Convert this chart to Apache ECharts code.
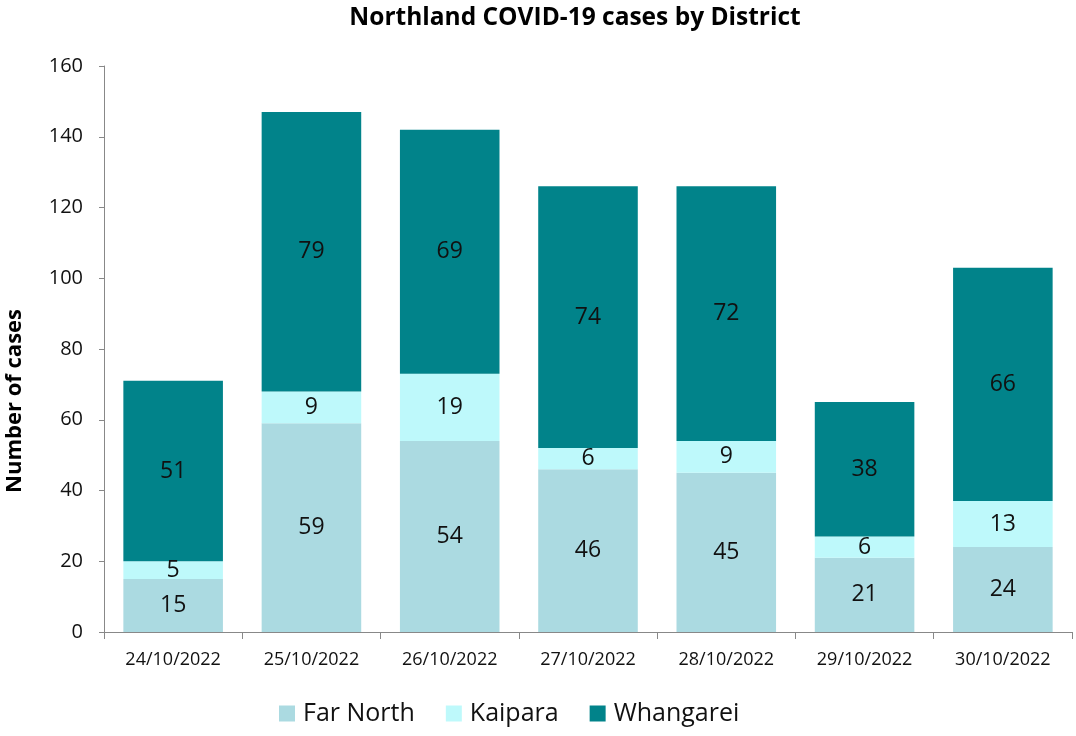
<!DOCTYPE html>
<html>
<head>
<meta charset="utf-8">
<script src="https://cdn.jsdelivr.net/npm/echarts@6/dist/echarts.min.js"></script>
<style>
  html, body { margin: 0; padding: 0; background: #fff; }
  #chart { width: 1076px; height: 736px; }
</style>
</head>
<body>
<div id="chart"></div>
<script>
const dates = ['24/10/2022', '25/10/2022', '26/10/2022', '27/10/2022', '28/10/2022', '29/10/2022', '30/10/2022']
const farNorth = [15, 59, 54, 46, 45, 21, 24]
const kaipara = [5, 9, 19, 6, 9, 6, 13]
const whangarei = [51, 79, 69, 74, 72, 38, 66]

const font = '"Open Sans", "Noto Sans", sans-serif'
const labelStyle = { show: true, position: 'inside', color: '#111', fontFamily: font, fontSize: 23 }

function district(name, data, color) {
  return {
    name,
    type: 'bar',
    stack: 'cases',
    data,
    barWidth: '72%',
    itemStyle: { color },
    label: labelStyle,
    emphasis: { disabled: true },
  }
}

const chart = echarts.init(document.getElementById('chart'), null, { renderer: 'canvas' })
chart.setOption({
  animation: false,
  backgroundColor: '#fff',
  title: {
    text: 'Northland COVID-19 cases by District',
    top: 1,
    left: 570,
    textAlign: 'center',
    textStyle: { fontFamily: font, fontSize: 24.5, fontWeight: 'bold', color: '#000' },
  },
  grid: { left: 104, right: 4, top: 66, bottom: 104 },
  legend: {
    top: 696,
    left: 274,
    itemWidth: 16,
    itemHeight: 16,
    itemGap: 31,
    icon: 'rect',
    textStyle: { fontFamily: font, fontSize: 25, color: '#111', padding: [0, 0, 0, 3] },
  },
  graphic: [{
    type: 'text',
    left: 4,
    top: 309,
    rotation: Math.PI / 2,
    style: { text: 'Number of cases', font: 'bold 22px ' + font, fill: '#000' },
  }],
  xAxis: {
    type: 'category',
    data: dates,
    axisLine: { lineStyle: { color: '#888' } },
    axisTick: { show: true, length: 7, lineStyle: { color: '#888' } },
    axisLabel: { color: '#111', fontFamily: font, fontSize: 18, margin: 19 },
  },
  yAxis: {
    type: 'value',
    min: 0,
    max: 160,
    interval: 20,
    axisLine: { show: true, lineStyle: { color: '#888' } },
    axisTick: { show: true, length: 5, lineStyle: { color: '#888' } },
    splitLine: { show: false },
    axisLabel: { color: '#111', fontFamily: font, fontSize: 20, margin: 21 },
  },
  series: [
    district('Far North', farNorth, '#abdae1'),
    district('Kaipara', kaipara, '#bef9fb'),
    district('Whangarei', whangarei, '#01838a'),
  ],
})
</script>
</body>
</html>
